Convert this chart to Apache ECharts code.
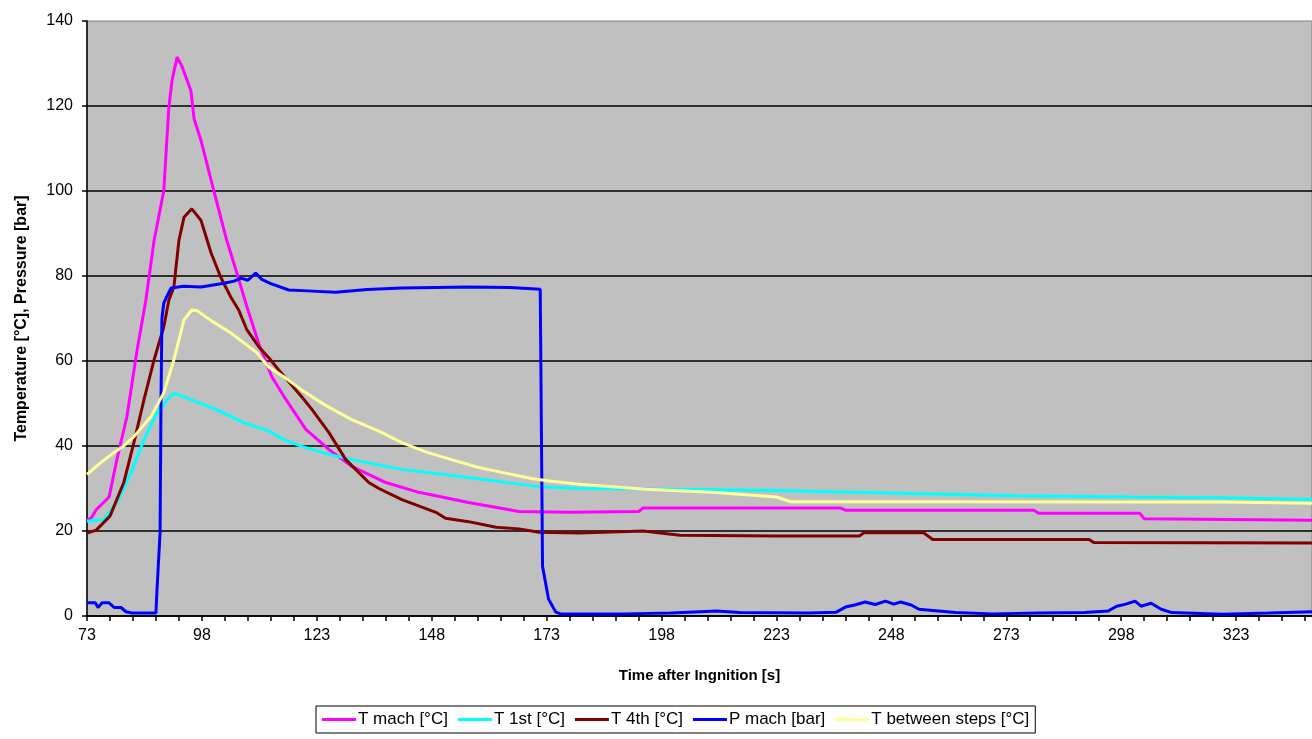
<!DOCTYPE html>
<html>
<head>
<meta charset="utf-8">
<script src="https://cdn.jsdelivr.net/npm/echarts@6/dist/echarts.min.js"></script>
<style>
html,body{margin:0;padding:0;background:#fff;}
#chart{width:1312px;height:739px;}
</style>
</head>
<body>
<div id="chart"></div>
<script>
// ---- data: [time after ignition (s), value] ----
const seriesNames = ['T mach [°C]', 'T 1st [°C]', 'T 4th [°C]', 'P mach [bar]', 'T between steps [°C]'];
const seriesColors = ['#FF00FF', '#00FFFF', '#800000', '#0000FF', '#FFFF99'];

const tMach = [[73,22.5],[74,23.2],[75,25],[77.8,28],[79.5,36.8],[81.7,47],[83.9,62.6],[85.8,74.3],[87.6,88.4],[89.7,100],[90.8,119.6],[91.5,126],[92.6,131.5],[93.6,129.5],[95.6,123.6],[96.3,117],[97.8,111.9],[100.6,100],[103.4,88.4],[105.6,80.7],[107.8,72.7],[110.4,64],[113.2,56.3],[116.3,50.9],[120.6,43.9],[125.6,39.2],[130.6,35.2],[138,31.4],[145.2,29.1],[156,26.7],[167,24.6],[178,24.4],[193,24.6],[194,25.4],[237,25.4],[238,24.9],[279,24.9],[280,24.2],[302,24.2],[303,22.9],[339.5,22.5]];

const t1st = [[73,22.3],[76.7,22.7],[79.5,26.7],[82.6,33.8],[85.4,41.5],[88.2,47.8],[91.3,52],[92.3,52.3],[95.6,50.9],[101.3,48.5],[107.1,45.5],[112.6,43.5],[115.8,41.5],[119.7,39.9],[125,38.2],[130.6,36.8],[141.5,34.5],[156,32.6],[170.6,30.5],[180,30],[200,29.8],[220,29.6],[250,28.9],[275,28.3],[300,28],[320,27.8],[339.5,27.4]];

const t4th = [[73,19.5],[75,20.2],[78,23.5],[81,31.4],[83.2,40.8],[85.4,50.9],[87.6,60.3],[89.7,68],[90.8,74.3],[91.9,77.4],[93,88.4],[94.1,93.8],[95.8,95.8],[97.8,93.1],[100,85.4],[102.1,79.7],[104.3,75],[106,72],[107.8,67.3],[110.4,63.3],[112.6,60.7],[114.7,57.9],[119.7,51.6],[122,48.5],[125.6,43.2],[129.3,36.8],[132.1,33.8],[134.3,31.4],[136.5,30],[141.5,27.4],[148.9,24.4],[151,23],[156,22.2],[162,20.9],[167,20.5],[171.3,19.7],[180,19.5],[194,20],[202,19],[223,18.8],[241,18.8],[242,19.6],[255,19.6],[257,18],[291,18],[292,17.3],[339.5,17.2]];

const pMach = [[73,3.1],[74.8,3.1],[75.4,2.0],[76.3,3.1],[77.8,3.1],[78.9,2.0],[80.4,2.0],[81.5,1.0],[82.8,0.7],[88,0.7],[88.2,5.6],[88.9,19.7],[89.1,50.9],[89.3,70],[89.7,73.6],[90.3,75],[91.3,77.2],[94,77.6],[97.8,77.4],[102.8,78.3],[105,78.8],[106.5,79.5],[108,79],[109.7,80.7],[111,79.2],[113,78.2],[116.9,76.7],[121,76.5],[127.1,76.2],[134,76.8],[141.5,77.2],[156,77.4],[165,77.3],[171.6,76.9],[171.9,76.9],[172.1,11.7],[173.4,4],[175,0.9],[176,0.5],[190,0.5],[200,0.7],[210,1.2],[215,0.8],[230,0.7],[236,0.9],[238,2.1],[240,2.6],[242.3,3.3],[244.5,2.7],[246.7,3.5],[248.5,2.8],[250,3.3],[252.3,2.6],[254,1.6],[258.2,1.2],[262,0.8],[270,0.5],[280,0.7],[290,0.8],[295.2,1.2],[297,2.3],[299,2.8],[301,3.5],[302.3,2.3],[304.5,3.0],[306.7,1.6],[309,0.8],[320,0.4],[330,0.7],[339.5,1.0]];

const tBetween = [[73,33.3],[76,36.1],[78.9,38.5],[81,40],[83.2,42.2],[86.9,46.9],[89.7,52.5],[91.9,60.3],[94.1,69.7],[95.8,72],[97,71.8],[100,69.5],[104.3,66.6],[110,61.9],[112.6,58.5],[115.8,56.3],[119.7,53.2],[125,49.5],[130.6,46.2],[136.5,43.5],[141.5,40.8],[147,38.5],[152.3,36.8],[158,35],[163.2,33.8],[170,32.3],[174,31.7],[180,31],[194.5,29.8],[209,29.1],[223,28],[226,26.9],[260,26.9],[300,26.8],[320,26.8],[339.5,26.5]];

const seriesData = [tMach, t1st, t4th, pMach, tBetween];

// ---- axis ticks / labels ----
const xMin = 73, xMax = 339.5;
const xLabelValues = [73, 98, 123, 148, 173, 198, 223, 248, 273, 298, 323];
const xTickValues = [73,78,83,88,93,98,103,108,113,118,123,128,133,138,143,148,153,158,163,168,173,178,183,188,193,198,203,208,213,218,223,228,233,238,243,248,253,258,263,268,273,278,283,288,293,298,303,308,313,318,323,328,333,338];

const FONT = '"Liberation Sans", Arial, sans-serif';

const chart = echarts.init(document.getElementById('chart'), null, {renderer: 'canvas'});
chart.setOption({
  animation: false,
  backgroundColor: '#ffffff',
  textStyle: {fontFamily: FONT, color: '#000'},
  grid: {
    left: 87, right: 0, top: 21, bottom: 123,
    show: true, backgroundColor: '#C0C0C0', borderColor: '#808080', borderWidth: 1
  },
  legend: {
    data: seriesNames,
    left: 316, top: 706,
    orient: 'horizontal',
    icon: 'rect',
    backgroundColor: '#fff',
    borderColor: '#000', borderWidth: 1,
    padding: [5, 6],
    itemGap: 10, itemWidth: 34, itemHeight: 3,
    textStyle: {fontFamily: FONT, fontSize: 17, color: '#000', padding: [0,0,0,-3]}
  },
  xAxis: {
    type: 'value', min: xMin, max: xMax,
    name: 'Time after Ingnition [s]',
    nameLocation: 'middle', nameGap: 52,
    nameTextStyle: {fontFamily: FONT, fontSize: 15, fontWeight: 'bold', color: '#000'},
    axisLine: {show: true, lineStyle: {color: '#000', width: 1.5}},
    axisTick: {show: true, customValues: xTickValues, length: 5, inside: false, lineStyle: {color: '#000', width: 1.5}},
    axisLabel: {customValues: xLabelValues, fontFamily: FONT, fontSize: 16, color: '#000', margin: 12},
    splitLine: {show: false}
  },
  yAxis: {
    type: 'value', min: 0, max: 140, interval: 20,
    name: 'Temperature [°C], Pressure [bar]',
    nameLocation: 'middle', nameGap: 57, nameRotate: 90,
    nameTextStyle: {fontFamily: FONT, fontSize: 16, fontWeight: 'bold', color: '#000'},
    axisLine: {show: true, lineStyle: {color: '#000', width: 1.5}},
    axisTick: {show: true, length: 5, inside: false, lineStyle: {color: '#000', width: 1.5}},
    axisLabel: {fontFamily: FONT, fontSize: 16, color: '#000', margin: 14},
    splitLine: {show: true, showMaxLine: false, lineStyle: {color: '#000', width: 1.5}}
  },
  series: seriesNames.map((name, i) => ({
    name: name,
    type: 'line',
    data: seriesData[i],
    symbol: 'none',
    showSymbol: false,
    smooth: false,
    color: seriesColors[i],
    lineStyle: {color: seriesColors[i], width: 3},
    emphasis: {disabled: true},
    z: 2 + i
  }))
});
</script>
</body>
</html>
